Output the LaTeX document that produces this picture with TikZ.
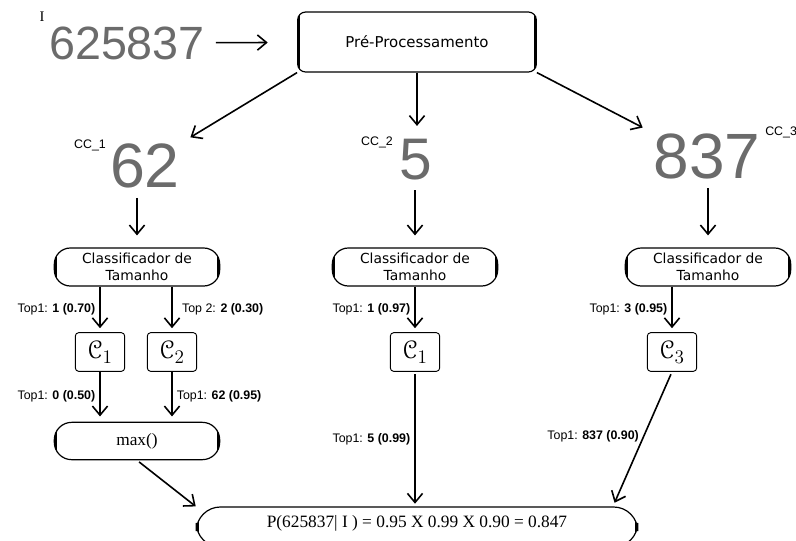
\documentclass[tikz,border=0pt]{standalone}
\usepackage{fontspec}
\usepackage{eucal}
\setmainfont{Liberation Serif}
\newfontfamily\dejavu{DejaVu Sans}
\newfontfamily\arial{Liberation Sans}
\usetikzlibrary{positioning, arrows.meta}

\begin{document}
\begin{tikzpicture}[
    x=0.75pt, y=-0.75pt,
    rbox/.style={draw, line width=0.9pt, align=center, inner sep=0pt,
      font=\dejavu\fontsize{10.4}{12.5}\selectfont,
      path picture={\draw[line width=4pt]
        (path picture bounding box.south west) -- (path picture bounding box.north west)
        (path picture bounding box.south east) -- (path picture bounding box.north east);}},
    cbox/.style={draw, line width=0.7pt, rounded corners=2.5pt, inner sep=0pt,
      minimum width=37pt, minimum height=29pt, font=\fontsize{19}{21}\selectfont},
    hand/.style={text=black!58, inner sep=0pt},
    lbl/.style={font=\arial\fontsize{9.3}{11}\selectfont, inner sep=3pt},
    arr/.style={-{Straight Barb[length=2.4mm, width=4mm]}, line width=1.2pt}
  ]
    \useasboundingbox (0,0) rectangle (796,540);

    % input image and pre-processing
    \node[font=\fontsize{11}{12}\selectfont, inner sep=0pt] (itag) at (42,17) {I};
    \node[hand, font=\arial\fontsize{35}{40}\selectfont] (img) at (127,43) {625837};
    \node[rbox, rounded corners=6pt, minimum width=179pt, minimum height=45pt,
      font=\dejavu\fontsize{11.2}{13}\selectfont] (pre) at (417,42) {Pré-Processamento};
    \draw[arr, shorten <=8pt, shorten >=22pt] (img) -- (pre);

    % connected components
    \node[hand, font=\arial\fontsize{47}{52}\selectfont] (cc1) at (145,166) {62};
    \node[lbl] (cc1tag) at (90,145) {CC\_1};
    \node[hand, font=\arial\fontsize{44}{50}\selectfont] (cc2) at (416,160) {5};
    \node[lbl] (cc2tag) at (377,142) {CC\_2};
    \node[hand, font=\arial\fontsize{48}{55}\selectfont] (cc3) at (707,156) {837};
    \node[lbl, anchor=west, inner sep=0pt] (cc3tag) at (765,132) {CC\_3};

    \draw[arr, shorten >=9pt] (pre.south west) -- (cc1.north east);
    \draw[arr, shorten >=10pt] (pre.south) -- (pre.south |- cc2.north);
    \draw[arr, shorten >=9pt] (pre.south east) -- (cc3.north west);

    % size classifiers
    \node[rbox, rounded corners=12pt, minimum width=124pt, minimum height=28.5pt] (cls1) at (137,267) {Classificador de\\Tamanho};
    \node[rbox, rounded corners=12pt, minimum width=124pt, minimum height=28.5pt] (cls2) at (415,267) {Classificador de\\Tamanho};
    \node[rbox, rounded corners=12pt, minimum width=124pt, minimum height=28.5pt] (cls3) at (708,267) {Classificador de\\Tamanho};

    \draw[arr, shorten <=7pt, shorten >=9pt] (cls1.north |- cc1.south) -- (cls1.north);
    \draw[arr, shorten <=7pt, shorten >=9pt] (cls2.north |- cc2.south) -- (cls2.north);
    \draw[arr, shorten <=7pt, shorten >=9pt] (cls3.north |- cc3.south) -- (cls3.north);

    % digit classifiers
    \node[cbox] (c11) at (100,352) {$\mathcal{C}_1$};
    \node[cbox] (c12) at (172,352) {$\mathcal{C}_2$};
    \node[cbox] (c21) at (415,352) {$\mathcal{C}_1$};
    \node[cbox] (c3) at (672,352) {$\mathcal{C}_3$};

    \draw[arr, shorten >=3pt] (cls1.south -| c11) -- node[lbl, left] {Top1: \textbf{1 (0.70)}} (c11.north);
    \draw[arr, shorten >=3pt] (cls1.south -| c12) -- node[lbl, right, xshift=4pt] {Top 2: \textbf{2 (0.30)}} (c12.north);
    \draw[arr, shorten >=3pt] (cls2.south -| c21) -- node[lbl, left] {Top1: \textbf{1 (0.97)}} (c21.north);
    \draw[arr, shorten >=3pt] (cls3.south -| c3) -- node[lbl, left] {Top1: \textbf{3 (0.95)}} (c3.north);

    \node[rbox, rounded corners=13pt, minimum width=124pt, minimum height=28pt,
      font=\fontsize{13}{15}\selectfont] (mx) at (137,441) {max()};
    \draw[arr, shorten >=4pt] (c11.south) -- node[lbl, left] {Top1: \textbf{0 (0.50)}} (c11 |- mx.north);
    \draw[arr, shorten >=4pt] (c12.south) -- node[lbl, right] {Top1: \textbf{62 (0.95)}} (c12 |- mx.north);

    % final probability
    \node[rbox, rounded corners=18pt, minimum width=331pt, minimum height=30pt,
      font=\fontsize{13}{15}\selectfont, text depth=8pt] (fin) at (417,527) {P(625837| I ) = 0.95 X 0.99 X 0.90 = 0.847};

    \draw[arr, shorten <=2pt] (mx.south) -- (fin.north west);
    \draw[arr, shorten <=2pt, shorten >=2pt] (c21.south) -- node[lbl, left, pos=0.5] {Top1: \textbf{5 (0.99)}} (c21 |- fin.north);
    \draw[arr, shorten <=2pt, shorten >=3pt] (c3.south) -- node[lbl, left, pos=0.48] {Top1: \textbf{837 (0.90)}} ([xshift=-19pt]fin.north east);
  \end{tikzpicture}
\end{document}
